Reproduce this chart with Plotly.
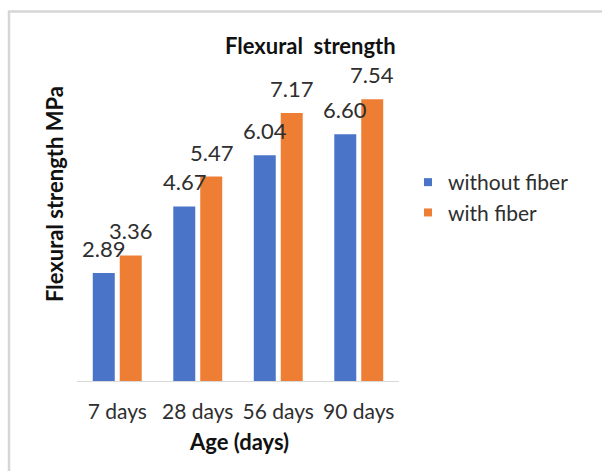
import plotly.graph_objects as go

# Flexural strength (MPa) by curing age
ages = ["7 days", "28 days", "56 days", "90 days"]
without_fiber = [2.89, 4.67, 6.04, 6.60]
with_fiber = [3.36, 5.47, 7.17, 7.54]
series_names = ["without fiber", "with fiber"]
series_colors = ["#4a74c8", "#ef7e35"]

W, H = 602, 471
L, R, T, B = 77, 203, 82, 90
PW, PH = W - L - R, H - T - B
FONT = "Lato, 'Open Sans', sans-serif"
TXT = "#2e2e2e"


def px(x):
    return (x - L) / PW


def py(y):
    return (H - B - y) / PH


fig = go.Figure()
for name, vals, col in zip(series_names, [without_fiber, with_fiber], series_colors):
    fig.add_trace(go.Bar(x=ages, y=vals, name=name, marker=dict(color=col, line=dict(width=0)),
                         showlegend=False))
    # small square legend entries
    fig.add_trace(go.Scatter(x=[None], y=[None], mode="markers", name=name,
                             marker=dict(symbol="square", size=8, color=col)))

# value labels above each bar
for vals, shift in zip([without_fiber, with_fiber], [-13.5, 13.5]):
    for a, v in zip(ages, vals):
        fig.add_annotation(x=a, y=v, xref="x", yref="y", text=f"{v:.2f}", showarrow=False,
                           xshift=shift, yshift=9, xanchor="center", yanchor="bottom",
                           font=dict(family=FONT, size=22, color=TXT))


def label(text, x, y, size, angle=0):
    fig.add_annotation(x=px(x), y=py(y), xref="paper", yref="paper", text=text, showarrow=False,
                       xanchor="center", yanchor="middle", textangle=angle,
                       font=dict(family=FONT, size=size, color="#111"))


label("<b>Flexural  strength</b>", 310, 45, 22)
label("<b>Age (days)</b>", 239, 441, 22)
label("<b>Flexural strength MPa</b>", 54, 194, 22, angle=-90)

# chart frame
fig.add_shape(type="rect", xref="paper", yref="paper", x0=px(9), x1=px(640), y0=py(500), y1=py(11.5),
              line=dict(color="#d6d6d6", width=2.5), layer="below")

fig.update_layout(
    width=W, height=H,
    margin=dict(l=L, r=R, t=T, b=B, pad=0),
    paper_bgcolor="white", plot_bgcolor="white",
    barmode="group", bargap=0.33, bargroupgap=0.185,
    font=dict(family=FONT, color=TXT),
    legend=dict(x=px(408), y=py(197.5), xanchor="left", yanchor="middle",
                font=dict(family=FONT, size=21, color=TXT), itemwidth=30,
                tracegroupgap=0, bgcolor="rgba(0,0,0,0)"),
    xaxis=dict(showline=True, linecolor="#d9d9d9", linewidth=1.2, ticks="outside", ticklen=12,
               tickcolor="rgba(0,0,0,0)", tickfont=dict(family=FONT, size=21, color=TXT),
               showgrid=False, zeroline=False),
    yaxis=dict(range=[0, 8], visible=False, showgrid=False, zeroline=False),
)

fig.write_html("out.html")
